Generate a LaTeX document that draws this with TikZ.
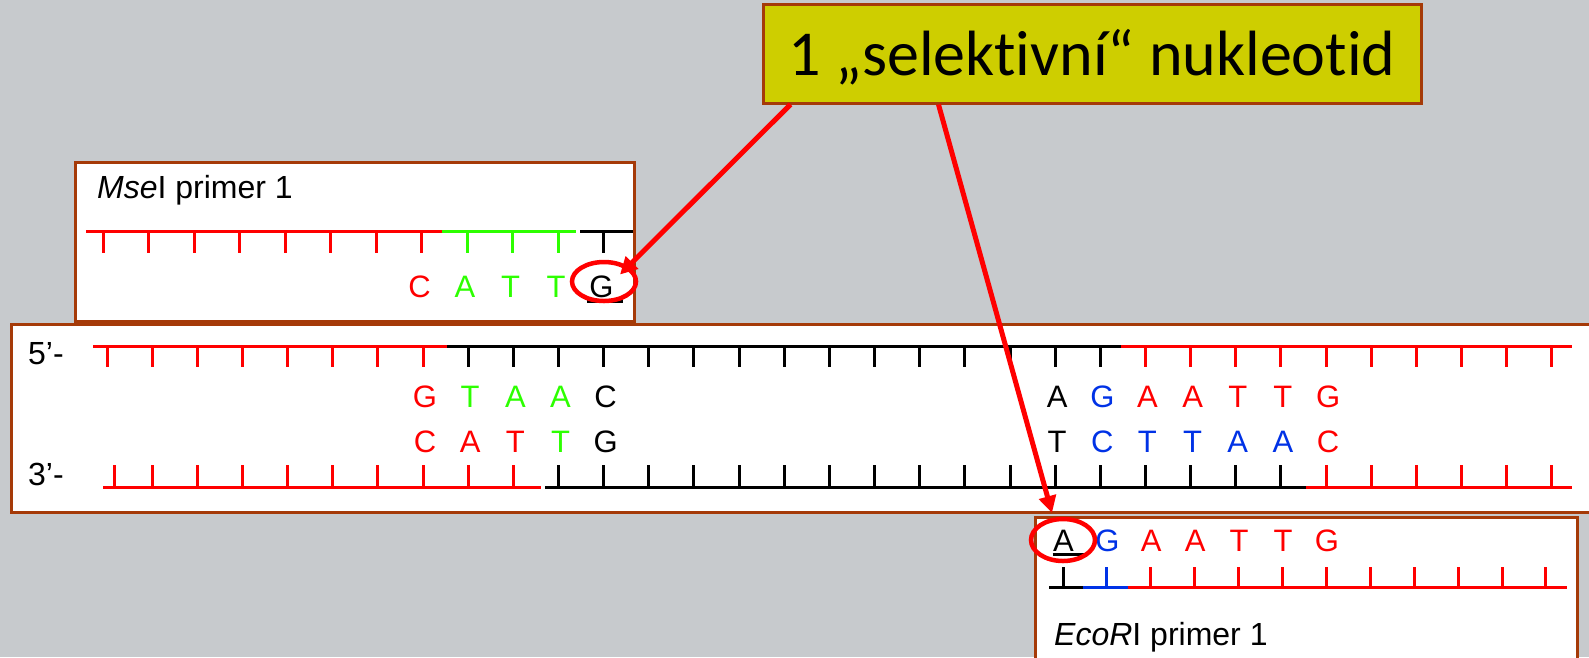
\documentclass[tikz,border=0pt]{standalone}
\usepackage{fontspec}
\setmainfont{Liberation Sans}
\newfontfamily\calloutfont[Ligatures=NoCommon]{Carlito}
\usetikzlibrary{arrows.meta,shapes.geometric}

\definecolor{bg}{RGB}{199,202,205}
\definecolor{frame}{RGB}{165,58,8}
\definecolor{callfill}{RGB}{206,206,0}
\definecolor{nred}{RGB}{255,0,0}
\definecolor{ngreen}{RGB}{45,255,0}
\definecolor{nblue}{RGB}{0,50,230}

\begin{document}
\begin{tikzpicture}[x=1pt, y=-1pt,
  panel/.style={draw=frame, line width=3pt, fill=white, inner sep=0pt, anchor=north west},
  callout/.style={draw=frame, line width=3pt, fill=callfill, inner sep=0pt,
    minimum width=658pt, minimum height=99pt, text height=48pt, text depth=5pt,
    font=\calloutfont\fontsize{64}{64}\selectfont},
  seq/.style={font=\fontsize{31}{31}\selectfont, anchor=base, inner sep=0pt},
  lbl/.style={font=\fontsize{32}{32}\selectfont, anchor=base west, inner sep=0pt},
  bb/.style={line width=3pt},
  tk/.style={line width=3pt},
  uline/.style={line width=3pt, black},
  ring/.style={draw=nred, line width=4.5pt, ellipse, inner sep=0pt},
  pointer/.style={draw=nred, line width=5pt, -{Triangle[length=17pt,width=17pt]}}
]
\useasboundingbox (0,0) rectangle (1589,657);
\fill[bg] (0,0) rectangle (1589,657);
\clip (0,0) rectangle (1589,657);

% ---------- panels ----------
\node[panel, minimum width=559pt, minimum height=159pt] (msebox) at (74,161) {};
\node[panel, minimum width=1590pt, minimum height=188pt] (dnabox) at (10,323) {};
\node[panel, minimum width=542pt, minimum height=165pt] (ecobox) at (1034,515.5) {};

% ---------- MseI primer ----------
\node[lbl] (mselbl) at (97,198) {\textit{Mse}I primer 1};
\draw[bb,nred]   (86,231.7) -- (442,231.7);
\draw[bb,ngreen] (442,231.7) -- (576,231.7);
\draw[bb,black]  (580,231.7) -- (633,231.7);
\foreach \k in {0,...,7}  \draw[tk,nred]   ({103+45.5*\k},231.7) -- ++(0,21.5);
\foreach \k in {8,...,10} \draw[tk,ngreen] ({103+45.5*\k},231.7) -- ++(0,21.5);
\draw[tk,black] ({103+45.5*11},231.7) -- ++(0,21.5);
\foreach \k/\b/\c in {7/C/nred, 8/A/ngreen, 9/T/ngreen, 10/T/ngreen, 11/G/black}
  \node[seq, text=\c] (m\k) at ({101+45.5*\k},297) {\b};
\draw[uline] ([shift={(-15,4.7)}]m11.base) -- ([shift={(21,4.7)}]m11.base);

% ---------- double-stranded fragment ----------
\node[lbl] (five)  at (28,364) {5’-};
\node[lbl] (three) at (28,485) {3’-};

% upper strand
\draw[bb,nred]  (93,346) -- (447,346);
\draw[bb,black] (447,346) -- (1121,346);
\draw[bb,nred]  (1121,346) -- (1572,346);
\foreach \k in {0,...,7}   \draw[tk,nred]  ({107+45.15*\k},346) -- ++(0,21);
\foreach \k in {8,...,22}  \draw[tk,black] ({107+45.15*\k},346) -- ++(0,21);
\foreach \k in {23,...,32} \draw[tk,nred]  ({107+45.15*\k},346) -- ++(0,21);

% lower strand
\draw[bb,nred]  (103,487) -- (541,487);
\draw[bb,black] (545,487) -- (1306,487);
\draw[bb,nred]  (1306,487) -- (1572,487);
\draw[tk,nred] (114,487) -- ++(0,-22);
\foreach \k in {1,...,9}   \draw[tk,nred]  ({107+45.15*\k},487) -- ++(0,-22);
\foreach \k in {10,...,26} \draw[tk,black] ({107+45.15*\k},487) -- ++(0,-22);
\foreach \k in {27,...,32} \draw[tk,nred]  ({107+45.15*\k},487) -- ++(0,-22);

% bases
\foreach \k/\b/\c in {7/G/nred, 8/T/ngreen, 9/A/ngreen, 10/A/ngreen, 11/C/black,
                      21/A/black, 22/G/nblue, 23/A/nred, 24/A/nred, 25/T/nred, 26/T/nred, 27/G/nred}
  \node[seq, text=\c] (u\k) at ({109+45.15*\k},407) {\b};
\foreach \k/\b/\c in {7/C/nred, 8/A/nred, 9/T/nred, 10/T/ngreen, 11/G/black,
                      21/T/black, 22/C/nblue, 23/T/nblue, 24/T/nblue, 25/A/nblue, 26/A/nblue, 27/C/nred}
  \node[seq, text=\c] (l\k) at ({109+45.15*\k},452) {\b};

% ---------- EcoRI primer ----------
\foreach \k/\b/\c in {0/A/black, 1/G/nblue, 2/A/nred, 3/A/nred, 4/T/nred, 5/T/nred, 6/G/nred}
  \node[seq, text=\c] (e\k) at ({1063.5+43.9*\k},551) {\b};
\draw[uline] ([shift={(-11,3.5)}]e0.base) -- ([shift={(22,3.5)}]e0.base);
\draw[bb,black] (1049,587) -- (1083,587);
\draw[bb,nblue] (1083,587) -- (1128,587);
\draw[bb,nred]  (1128,587) -- (1567,587);
\draw[tk,black] (1063,587) -- ++(0,-20.5);
\draw[tk,nblue] ({1063+43.9},587) -- ++(0,-20.5);
\foreach \k in {2,...,11} \draw[tk,nred] ({1063+43.9*\k},587) -- ++(0,-20.5);
\node[lbl] (ecolbl) at (1054,645) {\textit{EcoR}I primer 1};

% ---------- selective nucleotide marks ----------
\node[ring, minimum width=64pt, minimum height=39pt] (selG) at (604,281.5) {};
\node[ring, minimum width=64pt, minimum height=42pt] (selA) at (1063,540) {};

\node[callout] (sel) at (1092,53.5) {1 „selektivní“ nukleotid};

\coordinate (fromL) at ([xshift=29pt]sel.south west);
\coordinate (fromR) at ([xshift=177pt]sel.south west);
\draw[pointer] (fromL) -- ([shift={(16,-7)}]selG.center);
\draw[pointer] (fromR) -- ([shift={(-11,-27)}]selA.center);
\end{tikzpicture}
\end{document}
